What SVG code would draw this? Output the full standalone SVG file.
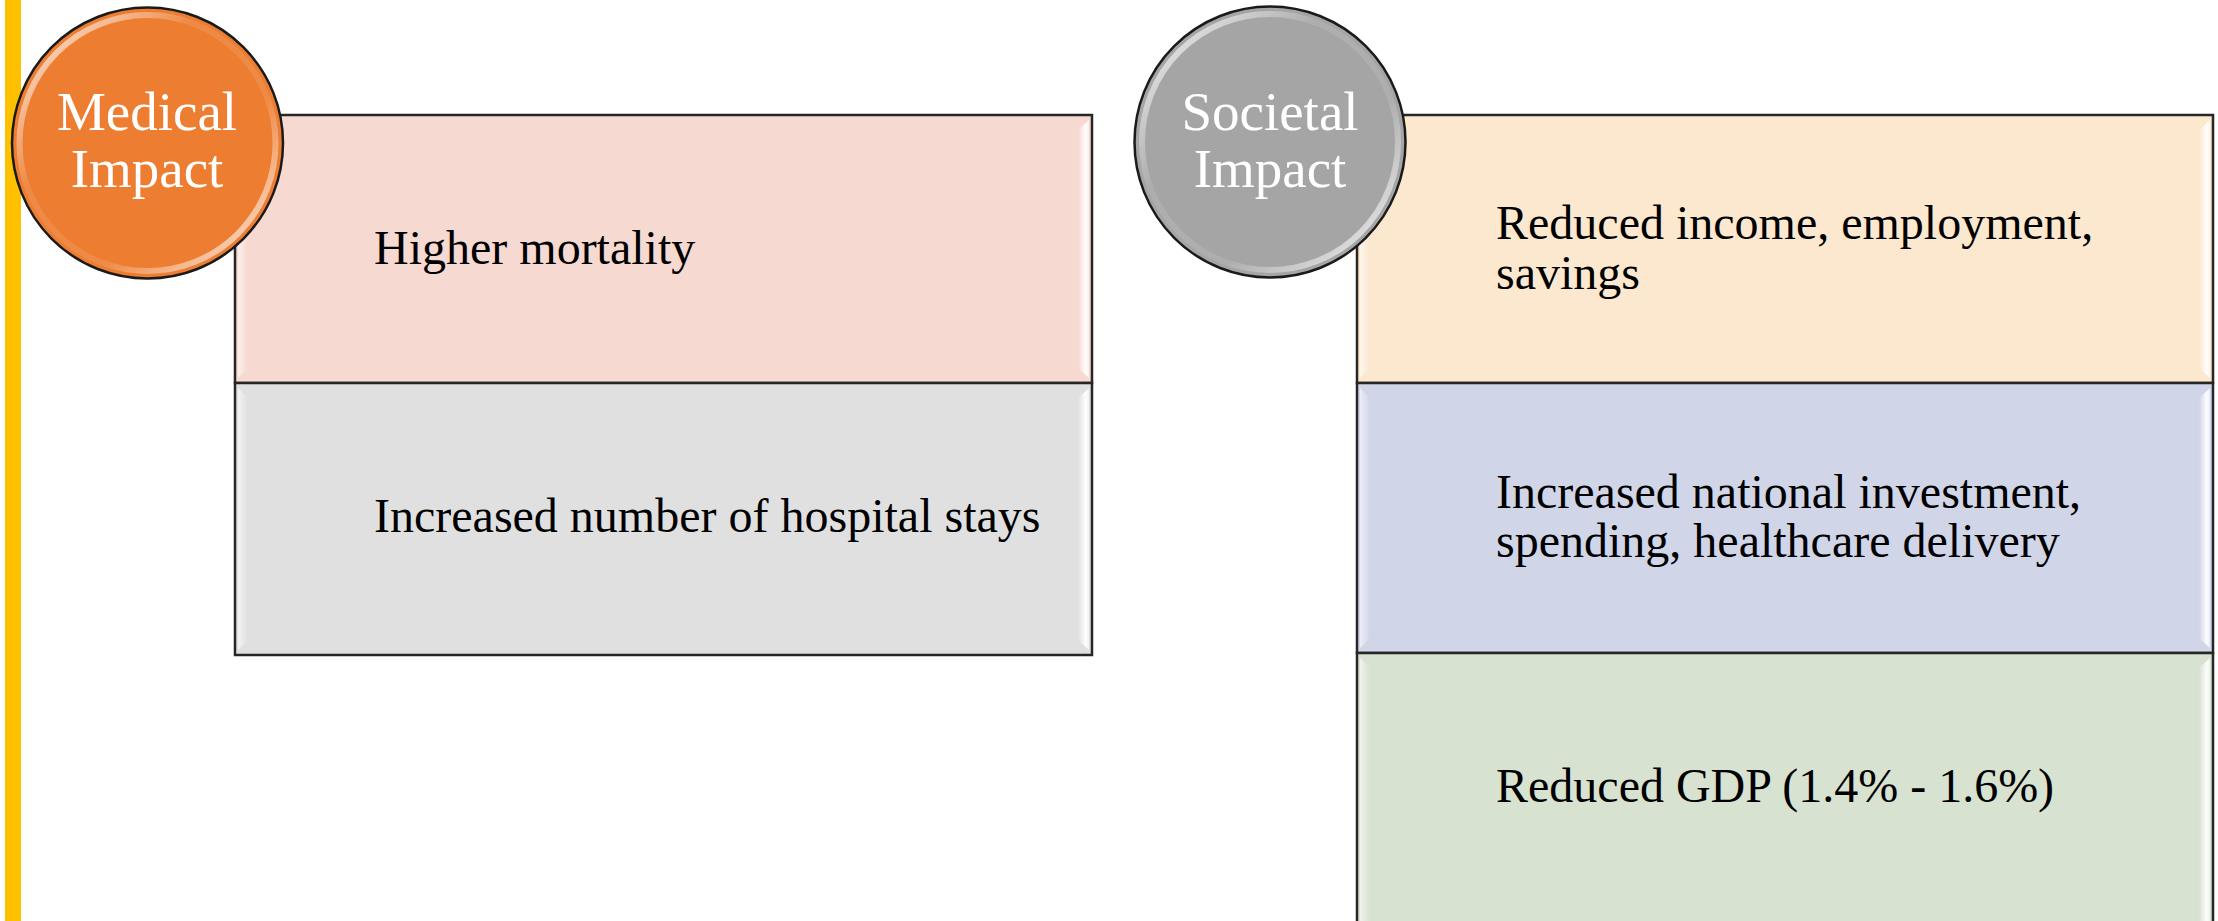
<svg xmlns="http://www.w3.org/2000/svg" width="2218" height="921" viewBox="0 0 2218 921">
  <style>
    .band { stroke: #262626; stroke-width: 2.5; }
    .txt { font-family: "Liberation Serif", "Times New Roman", serif; font-size: 48px; fill: #000; }
    .ctxt { font-family: "Liberation Serif", "Times New Roman", serif; font-size: 55px; fill: #fff; text-anchor: middle; }
    .circ { stroke: #1a1a1a; stroke-width: 2.5; }
    .gloss { fill: none; stroke: url(#ring); stroke-width: 6; }
  </style>
  <defs>
    <linearGradient id="bevR" x1="0" y1="0" x2="1" y2="0">
      <stop offset="0" stop-color="#fff" stop-opacity="0"/>
      <stop offset="0.7" stop-color="#fff" stop-opacity="0.95"/>
      <stop offset="1" stop-color="#fff" stop-opacity="0.6"/>
    </linearGradient>
    <linearGradient id="bevL" x1="1" y1="0" x2="0" y2="0">
      <stop offset="0" stop-color="#fff" stop-opacity="0"/>
      <stop offset="1" stop-color="#fff" stop-opacity="0.6"/>
    </linearGradient>
    <linearGradient id="ring" x1="0" y1="0" x2="1" y2="1">
      <stop offset="0" stop-color="#fff" stop-opacity="0.9"/>
      <stop offset="0.35" stop-color="#fff" stop-opacity="0.1"/>
      <stop offset="0.65" stop-color="#fff" stop-opacity="0.1"/>
      <stop offset="1" stop-color="#fff" stop-opacity="0.9"/>
    </linearGradient>
  </defs>
  <rect x="0" y="0" width="2218" height="921" fill="#fff"/>
  <rect id="accent-bar" x="5" y="0" width="16" height="921" fill="#FFC000"/>

  <g id="connectors"></g>

  <g id="medical-higher-mortality">
    <rect class="band" x="235" y="115" width="857" height="268" fill="#F6D9D0"/>
    <polygon points="1089,120 1089,378 1078,368 1078,130" fill="url(#bevR)"/>
    <polygon points="238,120 238,378 248,368 248,130" fill="url(#bevL)"/>
    <text class="txt" x="374" y="264">Higher mortality</text>
  </g>
  <g id="medical-hospital-stays">
    <rect class="band" x="235" y="383" width="857" height="272" fill="#E0E0E0"/>
    <polygon points="1089,388 1089,650 1078,640 1078,398" fill="url(#bevR)"/>
    <polygon points="238,388 238,650 248,640 248,398" fill="url(#bevL)"/>
    <text class="txt" x="374" y="532">Increased number of hospital stays</text>
  </g>

  <g id="societal-income">
    <rect class="band" x="1357" y="115" width="856" height="268" fill="#FCE7CF"/>
    <polygon points="2210,120 2210,378 2199,368 2199,130" fill="url(#bevR)"/>
    <polygon points="1360,120 1360,378 1370,368 1370,130" fill="url(#bevL)"/>
    <text class="txt" x="1496" y="239">Reduced income, employment,</text>
    <text class="txt" x="1496" y="289">savings</text>
  </g>
  <g id="societal-investment">
    <rect class="band" x="1357" y="383" width="856" height="270" fill="#D0D5E8"/>
    <polygon points="2210,388 2210,648 2199,638 2199,398" fill="url(#bevR)"/>
    <polygon points="1360,388 1360,648 1370,638 1370,398" fill="url(#bevL)"/>
    <text class="txt" x="1496" y="508">Increased national investment,</text>
    <text class="txt" x="1496" y="557">spending, healthcare delivery</text>
  </g>
  <g id="societal-gdp">
    <rect class="band" x="1357" y="653" width="856" height="272" fill="#D7E2D1"/>
    <polygon points="2210,658 2210,921 2199,921 2199,668" fill="url(#bevR)"/>
    <polygon points="1360,658 1360,921 1370,921 1370,668" fill="url(#bevL)"/>
    <text class="txt" x="1496" y="802">Reduced GDP (1.4% - 1.6%)</text>
  </g>

  <g id="medical-impact">
    <circle class="circ" cx="147.5" cy="143" r="135.5" fill="#ED7D31"/>
    <circle class="gloss" cx="147.5" cy="143" r="128"/>
    <text class="ctxt" x="147" y="130">Medical</text>
    <text class="ctxt" x="147" y="187">Impact</text>
  </g>
  <g id="societal-impact">
    <circle class="circ" cx="1270" cy="142" r="135.5" fill="#A5A5A5"/>
    <circle class="gloss" cx="1270" cy="142" r="128"/>
    <text class="ctxt" x="1270" y="130">Societal</text>
    <text class="ctxt" x="1270" y="187">Impact</text>
  </g>
</svg>
